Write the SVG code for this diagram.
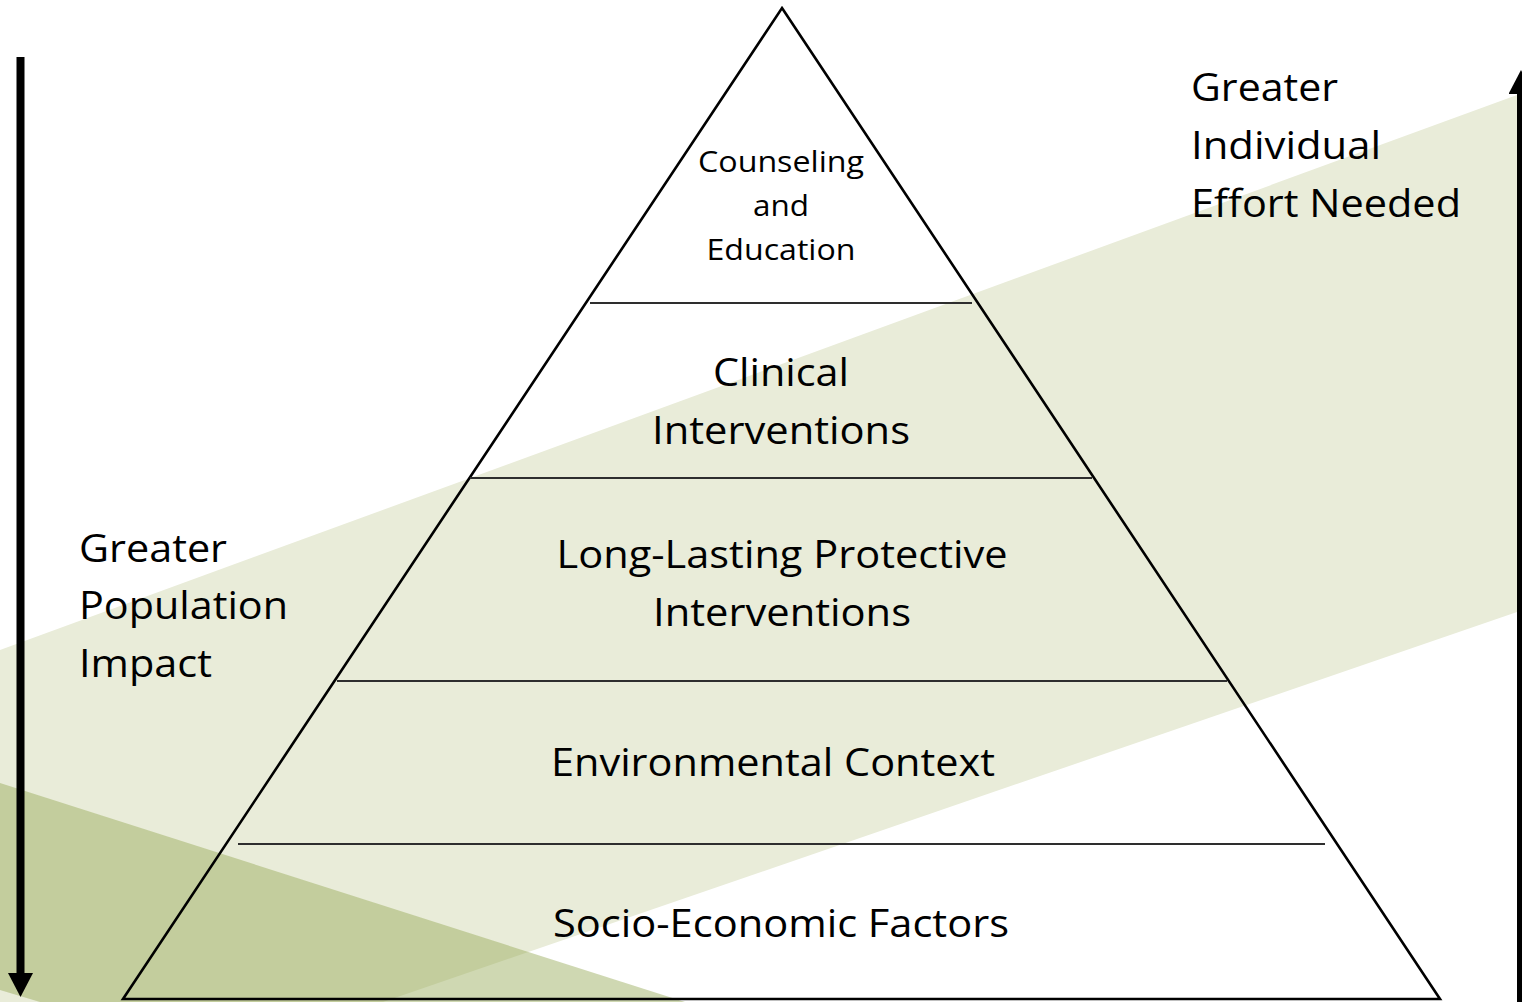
<svg xmlns="http://www.w3.org/2000/svg" width="1522" height="1002" viewBox="0 0 1522 1002">
  <style>
    .band { fill: #e9ecd9; }
    .wedge { fill: #94a955; fill-opacity: 0.45; }
    .outline { fill: none; stroke: #000; stroke-width: 2.6; stroke-linejoin: miter; }
    .divider { stroke: #2e2e2e; stroke-width: 1.8; }
    .label { font-family: "Open Sans", "Liberation Sans", sans-serif; fill: #000; }
    .big { font-size: 39px; }
    .small { font-size: 29px; }
    .axis { stroke: #000; stroke-width: 8; fill: none; }
  </style>
  <defs>
    <marker id="head" viewBox="0 0 24 25" refX="0" refY="12.5" markerWidth="24" markerHeight="25" markerUnits="userSpaceOnUse" orient="auto">
      <path d="M0,0 L24,12.5 L0,25 z" fill="#000"/>
    </marker>
  </defs>

  <!-- background: pale diagonal band and darker lower-left wedge -->
  <g id="background">
    <rect x="0" y="0" width="1522" height="1002" fill="#fff"/>
    <polygon class="band" points="0,650 1517,95 1517,612 383,1002 0,1002"/>
    <polygon class="wedge" points="0,783 685,1002 40,1002 0,990"/>
  </g>

  <!-- pyramid outline -->
  <g id="pyramid">
    <polygon class="outline" points="782,8 1440,999 123,999"/>
  </g>

  <!-- tiers, top to bottom -->
  <g id="tier-counseling">
    <line class="divider" x1="590" y1="303" x2="972" y2="303"/>
    <text class="label small" text-anchor="middle" x="781" y="172" textLength="166" lengthAdjust="spacingAndGlyphs">Counseling</text>
    <text class="label small" text-anchor="middle" x="781" y="216" textLength="56" lengthAdjust="spacingAndGlyphs">and</text>
    <text class="label small" text-anchor="middle" x="781" y="260" textLength="149" lengthAdjust="spacingAndGlyphs">Education</text>
  </g>
  <g id="tier-clinical">
    <line class="divider" x1="470" y1="478" x2="1092" y2="478"/>
    <text class="label big" text-anchor="middle" x="781" y="386" textLength="136" lengthAdjust="spacingAndGlyphs">Clinical</text>
    <text class="label big" text-anchor="middle" x="781" y="444" textLength="258" lengthAdjust="spacingAndGlyphs">Interventions</text>
  </g>
  <g id="tier-protective">
    <line class="divider" x1="337" y1="681" x2="1227" y2="681"/>
    <text class="label big" text-anchor="middle" x="782" y="568" textLength="451" lengthAdjust="spacingAndGlyphs">Long-Lasting Protective</text>
    <text class="label big" text-anchor="middle" x="782" y="626" textLength="258" lengthAdjust="spacingAndGlyphs">Interventions</text>
  </g>
  <g id="tier-environmental">
    <line class="divider" x1="238" y1="844" x2="1325" y2="844"/>
    <text class="label big" text-anchor="middle" x="773" y="776" textLength="444" lengthAdjust="spacingAndGlyphs">Environmental Context</text>
  </g>
  <g id="tier-socioeconomic">
    <text class="label big" text-anchor="middle" x="781" y="937" textLength="456" lengthAdjust="spacingAndGlyphs">Socio-Economic Factors</text>
  </g>

  <!-- side captions -->
  <g id="caption-population">
    <text class="label big" x="79" y="562" textLength="148" lengthAdjust="spacingAndGlyphs">Greater</text>
    <text class="label big" x="79" y="619" textLength="209" lengthAdjust="spacingAndGlyphs">Population</text>
    <text class="label big" x="79" y="677" textLength="133" lengthAdjust="spacingAndGlyphs">Impact</text>
  </g>
  <g id="caption-effort">
    <text class="label big" x="1191" y="101" textLength="147" lengthAdjust="spacingAndGlyphs">Greater</text>
    <text class="label big" x="1191" y="159" textLength="190" lengthAdjust="spacingAndGlyphs">Individual</text>
    <text class="label big" x="1191" y="217" textLength="270" lengthAdjust="spacingAndGlyphs">Effort Needed</text>
  </g>

  <!-- axis arrows -->
  <g id="connectors">
    <line class="axis" x1="20.5" y1="57" x2="20.5" y2="973" marker-end="url(#head)"/>
    <line class="axis" x1="1521" y1="1002" x2="1521" y2="94" marker-end="url(#head)"/>
  </g>
</svg>
